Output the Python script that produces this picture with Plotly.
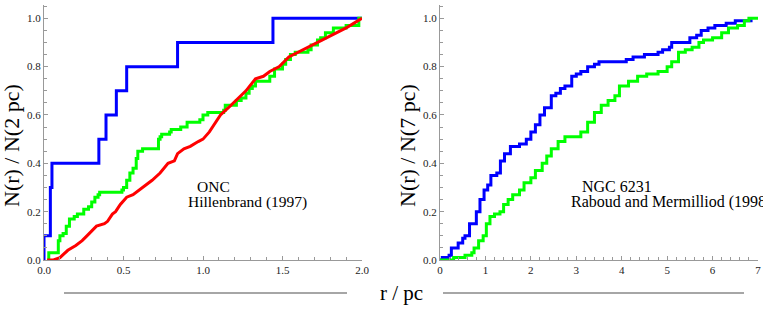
import plotly.graph_objects as go

# ---------------- data ----------------
# Left panel: ONC, Hillenbrand (1997)
onc_blue_r = [0.0, 0.0, 0.04, 0.05, 0.345, 0.39, 0.455, 0.52, 0.84, 1.44, 2.0]
onc_blue_n = [0.0, 0.1, 0.3, 0.4, 0.5, 0.6, 0.7, 0.8, 0.9, 1.0, 1.0]

onc_green_r = [0.02, 0.03, 0.09, 0.10, 0.12, 0.14, 0.16, 0.19, 0.21, 0.25, 0.28, 0.30, 0.32, 0.34,
               0.35, 0.49, 0.50, 0.52, 0.54, 0.56, 0.58, 0.59, 0.62, 0.72, 0.73, 0.74, 0.79, 0.80,
               0.86, 0.90, 0.98, 1.00, 1.03, 1.13, 1.14, 1.21, 1.24, 1.27, 1.29, 1.31, 1.33, 1.40,
               1.42, 1.45, 1.50, 1.52, 1.55, 1.58, 1.66, 1.68, 1.72, 1.74, 1.77, 1.82, 1.90, 1.98, 2.0]
onc_green_n = [0.0, 0.03, 0.08, 0.10, 0.11, 0.14, 0.17, 0.18, 0.19, 0.21, 0.22, 0.24, 0.26, 0.27,
               0.28, 0.29, 0.30, 0.33, 0.36, 0.38, 0.42, 0.45, 0.46, 0.50, 0.51, 0.52, 0.53, 0.54,
               0.55, 0.57, 0.58, 0.60, 0.61, 0.62, 0.64, 0.66, 0.67, 0.69, 0.71, 0.72, 0.74, 0.74,
               0.76, 0.79, 0.81, 0.83, 0.85, 0.86, 0.87, 0.89, 0.91, 0.92, 0.94, 0.96, 0.97, 1.0, 1.0]

onc_red_r = [0.02, 0.06, 0.10, 0.15, 0.20, 0.24, 0.27, 0.30, 0.33, 0.38, 0.40, 0.43, 0.45, 0.48,
             0.52, 0.56, 0.62, 0.68, 0.73, 0.78, 0.82, 0.84, 0.88, 0.92, 0.97, 1.00, 1.04, 1.08,
             1.11, 1.16, 1.21, 1.27, 1.33, 1.38, 1.42, 1.48, 1.54, 1.60, 1.67, 1.72, 1.78, 1.84,
             1.90, 1.95, 2.00]
onc_red_n = [0.0, 0.0, 0.01, 0.04, 0.06, 0.08, 0.10, 0.12, 0.14, 0.15, 0.16, 0.19, 0.20, 0.23,
             0.26, 0.27, 0.30, 0.33, 0.36, 0.40, 0.41, 0.44, 0.46, 0.47, 0.49, 0.50, 0.53, 0.57,
             0.60, 0.63, 0.66, 0.70, 0.75, 0.76, 0.78, 0.80, 0.84, 0.86, 0.88, 0.90, 0.92, 0.94,
             0.96, 0.98, 1.00]

# Right panel: NGC 6231, Raboud and Mermilliod (1998)
ngc_blue_r = [0.0, 0.05, 0.2, 0.25, 0.4, 0.5, 0.55, 0.65, 0.8, 0.88, 0.97, 1.05, 1.12, 1.25, 1.33,
              1.42, 1.55, 1.75, 1.9, 2.0, 2.1, 2.2, 2.3, 2.45, 2.55, 2.65, 2.75, 2.9, 3.0, 3.1,
              3.25, 3.4, 3.5, 4.0, 4.1, 4.25, 4.5, 4.8, 4.9, 5.05, 5.1, 5.4, 5.5, 5.65, 5.75,
              5.9, 6.05, 6.3, 6.5, 6.88]
ngc_blue_n = [0.0, 0.01, 0.02, 0.05, 0.07, 0.09, 0.10, 0.15, 0.20, 0.25, 0.29, 0.31, 0.35, 0.36,
              0.41, 0.44, 0.47, 0.48, 0.50, 0.53, 0.56, 0.60, 0.63, 0.68, 0.69, 0.71, 0.72, 0.76,
              0.77, 0.78, 0.80, 0.81, 0.82, 0.82, 0.83, 0.84, 0.85, 0.86, 0.87, 0.88, 0.90, 0.90,
              0.92, 0.93, 0.95, 0.96, 0.97, 0.98, 0.99, 0.99]

ngc_green_r = [0.0, 0.3, 0.5, 0.55, 0.7, 0.75, 0.85, 0.95, 1.02, 1.1, 1.2, 1.32, 1.4, 1.5, 1.6,
               1.75, 1.85, 2.0, 2.1, 2.25, 2.35, 2.45, 2.6, 2.75, 3.0, 3.1, 3.25, 3.4, 3.55, 3.7,
               3.85, 3.95, 4.15, 4.35, 4.55, 4.8, 5.0, 5.1, 5.25, 5.4, 5.55, 5.7, 5.8, 6.0, 6.2,
               6.35, 6.55, 6.7, 6.8, 7.0]
ngc_green_n = [0.0, 0.01, 0.01, 0.02, 0.03, 0.05, 0.08, 0.10, 0.15, 0.18, 0.19, 0.20, 0.23, 0.25,
               0.27, 0.29, 0.32, 0.34, 0.37, 0.40, 0.43, 0.46, 0.49, 0.51, 0.51, 0.53, 0.57, 0.61,
               0.64, 0.66, 0.68, 0.72, 0.74, 0.76, 0.77, 0.78, 0.80, 0.82, 0.86, 0.87, 0.88, 0.90,
               0.91, 0.92, 0.94, 0.96, 0.97, 0.99, 1.00, 1.00]

y_ticks = [0.0, 0.2, 0.4, 0.6, 0.8, 1.0]
left_x_ticks = [0.0, 0.5, 1.0, 1.5, 2.0]
right_x_ticks = [0, 1, 2, 3, 4, 5, 6, 7]

BLUE = "#0000FF"
GREEN = "#00FF00"
RED = "#FF0000"
SERIF = "Liberation Serif"
W, H = 763, 310

fig = go.Figure()

def add(x, y, color, xa, ya, shape):
    fig.add_trace(go.Scatter(x=x, y=y, mode="lines", line=dict(color=color, width=3, shape=shape),
                             xaxis=xa, yaxis=ya, cliponaxis=False, showlegend=False,
                             hoverinfo="skip"))

add(onc_blue_r, onc_blue_n, BLUE, "x", "y", "hv")
add(onc_green_r, onc_green_n, GREEN, "x", "y", "hv")
add(onc_red_r, onc_red_n, RED, "x", "y", "linear")
add(ngc_blue_r, ngc_blue_n, BLUE, "x2", "y2", "hv")
add(ngc_green_r, ngc_green_n, GREEN, "x2", "y2", "hv")

axis_common = dict(showline=True, linecolor="#999999", linewidth=1, showgrid=False, zeroline=False,
                   ticks="inside", ticklen=4, tickcolor="#999999", tickwidth=1, automargin=False,
                   tickfont=dict(family=SERIF, size=11, color="#222222"), mirror=False)

ydom = [50 / H, 1 - 5 / H]
fig.update_layout(
    template="none",
    font=dict(family=SERIF),
    width=W, height=H, margin=dict(l=0, r=0, t=0, b=0, pad=0, autoexpand=False),
    paper_bgcolor="white", plot_bgcolor="white",
    xaxis=dict(domain=[44 / W, 362 / W], range=[0, 2], tickvals=left_x_ticks, tickformat=".1f",
               minor=dict(dtick=0.1, ticks="inside", ticklen=3, tickcolor="#999999"),
               anchor="y", **axis_common),
    yaxis=dict(domain=ydom, range=[0, 1.055], tickvals=y_ticks, tickformat=".1f",
               minor=dict(dtick=0.05, ticks="inside", ticklen=3, tickcolor="#999999"),
               anchor="x", **axis_common),
    xaxis2=dict(domain=[440 / W, 758 / W], range=[0, 7], tickvals=right_x_ticks, tickformat="d",
                minor=dict(dtick=0.2, ticks="inside", ticklen=3, tickcolor="#999999"),
                anchor="y2", **axis_common),
    yaxis2=dict(domain=ydom, range=[0, 1.055], tickvals=y_ticks, tickformat=".1f",
                minor=dict(dtick=0.05, ticks="inside", ticklen=3, tickcolor="#999999"),
                anchor="x2", **axis_common),
)

ann_font = dict(family=SERIF, size=15.5, color="black")
ann_font_r = dict(family=SERIF, size=16, color="black")
fig.add_annotation(x=0.95, y=0.305, xref="x", yref="y", text="ONC", showarrow=False,
                   xanchor="left", yanchor="middle", font=ann_font)
fig.add_annotation(x=0.895, y=0.24, xref="x", yref="y", text="Hillenbrand (1997)", showarrow=False,
                   xanchor="left", yanchor="middle", font=ann_font)
fig.add_annotation(x=3.09, y=0.305, xref="x2", yref="y2", text="NGC 6231", showarrow=False,
                   xanchor="left", yanchor="middle", font=ann_font_r)
fig.add_annotation(x=2.84, y=0.24, xref="x2", yref="y2", text="Raboud and Mermilliod (1998)",
                   showarrow=False, xanchor="left", yanchor="middle", font=ann_font_r)

title_font = dict(family=SERIF, size=22, color="black")
fig.add_annotation(x=11 / W, y=1 - 146 / H, xref="paper", yref="paper", text="N(r) / N(2 pc)",
                   textangle=-90, showarrow=False, xanchor="center", yanchor="middle", font=title_font)
fig.add_annotation(x=407 / W, y=1 - 146 / H, xref="paper", yref="paper", text="N(r) / N(7 pc)",
                   textangle=-90, showarrow=False, xanchor="center", yanchor="middle", font=title_font)
fig.add_annotation(x=401 / W, y=1 - 293 / H, xref="paper", yref="paper", text="r / pc",
                   showarrow=False, xanchor="center", yanchor="middle",
                   font=dict(family=SERIF, size=21, color="black"))

for x0, x1 in [(64, 347), (443, 744)]:
    fig.add_shape(type="line", xref="paper", yref="paper", x0=x0 / W, x1=x1 / W,
                  y0=1 - 293 / H, y1=1 - 293 / H, line=dict(color="#888888", width=1.5))

fig.write_html("out.html", config={"displayModeBar": False},
               post_script="document.body.style.margin='0';document.body.style.overflow='hidden';")
